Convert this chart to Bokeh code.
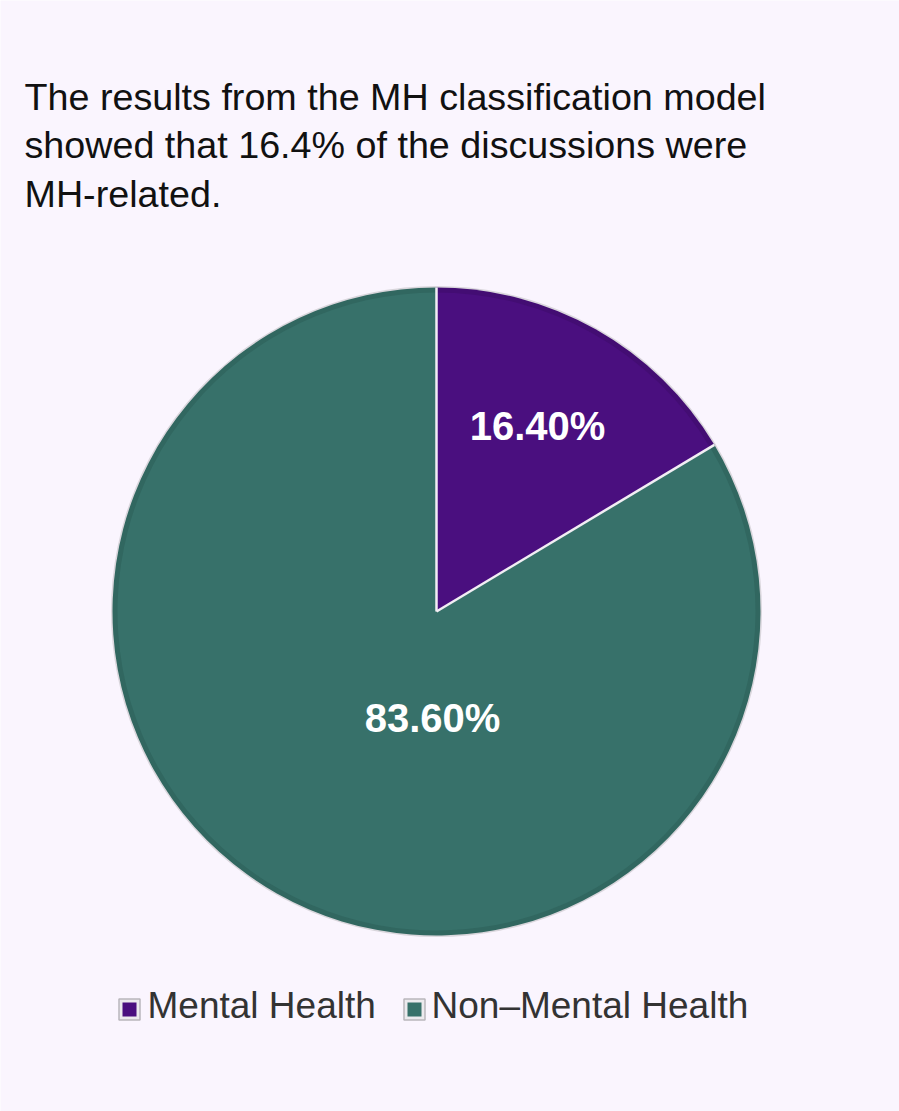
import math
from bokeh.plotting import figure
from bokeh.models import Range1d, ColumnDataSource
from bokeh.core.properties import value
from bokeh.embed import file_html
from bokeh.resources import INLINE

# ---- data ----
categories = ["Mental Health", "Non\u2013Mental Health"]
shares = [16.40, 83.60]
colors = ["#4A0F7F", "#37716A"]
edge_colors = ["#430D73", "#316760"]
title_lines = ["The results from the MH classification model",
               "showed that 16.4% of the discussions were",
               "MH-related."]

# ---- layout (pixel space, y measured from top) ----
W, H = 899, 1111
CX, CY, R = 436, 611, 324
LABEL_OFFSETS = [(101, 186), (-4, -106)]
BG = "#FAF5FE"
FONT = "Liberation Sans"
TITLE_Y = [96, 144, 193]
LEG_SQ_X = [129, 414]
LEG_TXT_X = [147, 431]
LEG_SQ_Y = 1009
LEG_TXT_Y = 1005

def Y(py):
    return H - py

p = figure(width=W, height=H, output_backend="svg", toolbar_location=None,
           x_range=Range1d(0, W), y_range=Range1d(0, H),
           min_border=0, background_fill_color=BG, border_fill_color=BG)
p.axis.visible = False
p.grid.visible = False
p.outline_line_color = None

# angles: start at top, go clockwise
total = sum(shares)
starts, ends = [], []
a = math.pi / 2
for s in shares:
    starts.append(a)
    a = a - 2 * math.pi * s / total
    ends.append(a)

src = ColumnDataSource(dict(start=starts, end=ends, color=colors, edge=edge_colors,
                            name=categories))

# outer light rim
p.circle(x=[CX], y=[Y(CY)], radius=R + 1.5, fill_color="#D9D6DC", line_color=None)
# slice with darker inner edge
p.wedge(x=CX, y=Y(CY), radius=R, start_angle="start", end_angle="end",
        direction="clock", fill_color="edge", line_color=None, source=src)
p.wedge(x=CX, y=Y(CY), radius=R - 5, start_angle="start", end_angle="end",
        direction="clock", fill_color="color", line_color=None, source=src)
# white separators
for ang in starts:
    p.line(x=[CX, CX + R * math.cos(ang)], y=[Y(CY), Y(CY) + R * math.sin(ang)],
           line_color="#F2EEF4", line_width=2.5)

# slice labels
lx = [CX + dx for dx, dy in LABEL_OFFSETS]
ly = [Y(CY) + dy for dx, dy in LABEL_OFFSETS]
labels = [f"{s:.2f}%" for s in shares]
p.text(x=lx, y=ly, text=labels, text_font=value(FONT), text_font_style="bold",
       text_font_size="40px", text_color="white", text_align="center",
       text_baseline="middle")

# title
p.text(x=[24] * len(title_lines), y=[Y(v) for v in TITLE_Y], text=title_lines,
       text_font=value(FONT), text_font_size="37.7px", text_color="#111111",
       text_align="left", text_baseline="alphabetic")

# legend
p.scatter(x=LEG_SQ_X, y=[Y(LEG_SQ_Y)] * 2, marker="square", size=21,
          fill_color="#ECEAEE", line_color="#B9B6BC", line_width=1.5)
p.scatter(x=LEG_SQ_X, y=[Y(LEG_SQ_Y)] * 2, marker="square", size=14,
          fill_color=colors, line_color=None)
p.text(x=LEG_TXT_X, y=[Y(LEG_TXT_Y)] * 2, text=categories, text_font=value(FONT),
       text_font_size="37px", text_color="#333333", text_align="left",
       text_baseline="alphabetic")

open("out.html", "w").write(file_html(p, INLINE))
